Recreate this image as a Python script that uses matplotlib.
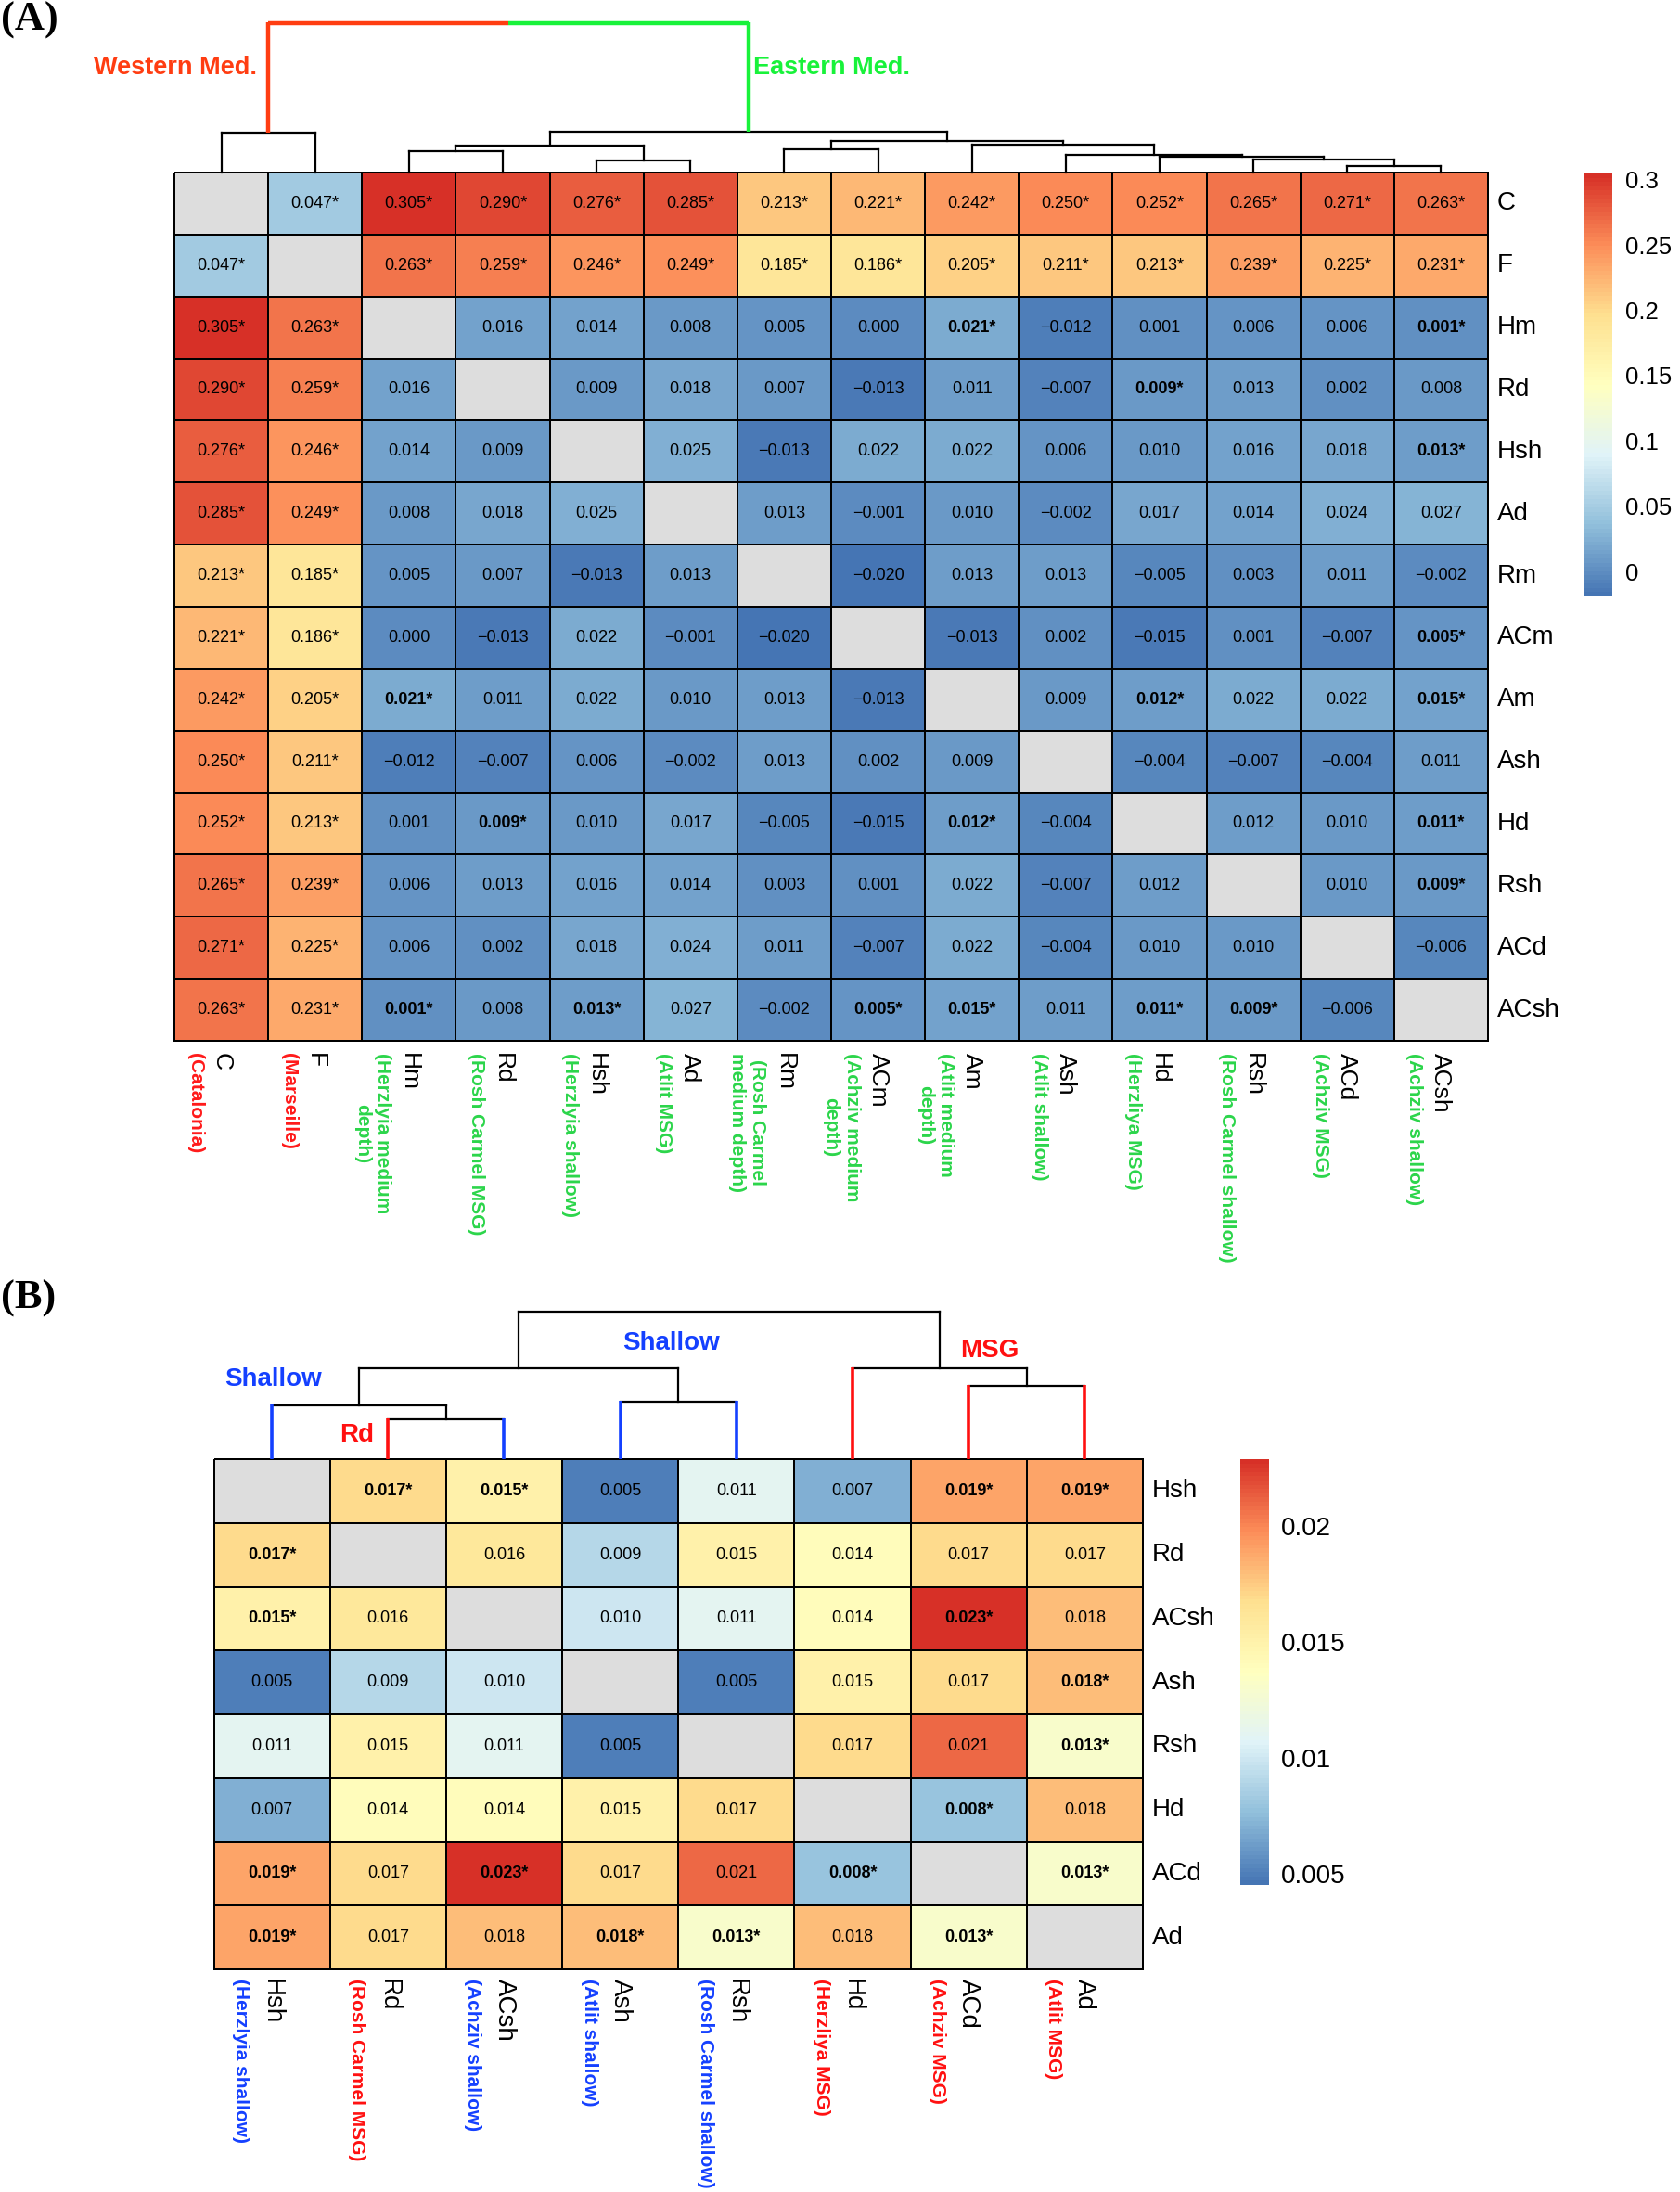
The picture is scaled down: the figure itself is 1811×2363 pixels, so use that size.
import numpy as np
import matplotlib
matplotlib.use('Agg')
import matplotlib.pyplot as plt
from matplotlib.colors import LinearSegmentedColormap, Normalize
from matplotlib.cm import ScalarMappable

W, H, DPI = 1811, 2363, 100
plt.rcParams['font.family'] = ['Liberation Sans', 'DejaVu Sans']

nan = np.nan

# ---------------- Panel A data ----------------
a_labels = ['C', 'F', 'Hm', 'Rd', 'Hsh', 'Ad', 'Rm', 'ACm', 'Am', 'Ash', 'Hd', 'Rsh', 'ACd', 'ACsh']
a_names = ['(Catalonia)', '(Marseille)', '(Herzlyia medium\ndepth)', '(Rosh Carmel MSG)',
           '(Herzlyia shallow)', '(Atlit MSG)', '(Rosh Carmel\nmedium depth)', '(Achziv medium\ndepth)',
           '(Atlit medium\ndepth)', '(Atlit shallow)', '(Herzliya MSG)', '(Rosh Carmel shallow)',
           '(Achziv MSG)', '(Achziv shallow)']
a_region = ['W', 'W'] + ['E'] * 12
a_values = [
    [nan, .047, .305, .290, .276, .285, .213, .221, .242, .250, .252, .265, .271, .263],
    [.047, nan, .263, .259, .246, .249, .185, .186, .205, .211, .213, .239, .225, .231],
    [.305, .263, nan, .016, .014, .008, .005, .000, .021, -.012, .001, .006, .006, .001],
    [.290, .259, .016, nan, .009, .018, .007, -.013, .011, -.007, .009, .013, .002, .008],
    [.276, .246, .014, .009, nan, .025, -.013, .022, .022, .006, .010, .016, .018, .013],
    [.285, .249, .008, .018, .025, nan, .013, -.001, .010, -.002, .017, .014, .024, .027],
    [.213, .185, .005, .007, -.013, .013, nan, -.020, .013, .013, -.005, .003, .011, -.002],
    [.221, .186, .000, -.013, .022, -.001, -.020, nan, -.013, .002, -.015, .001, -.007, .005],
    [.242, .205, .021, .011, .022, .010, .013, -.013, nan, .009, .012, .022, .022, .015],
    [.250, .211, -.012, -.007, .006, -.002, .013, .002, .009, nan, -.004, -.007, -.004, .011],
    [.252, .213, .001, .009, .010, .017, -.005, -.015, .012, -.004, nan, .012, .010, .011],
    [.265, .239, .006, .013, .016, .014, .003, .001, .022, -.007, .012, nan, .010, .009],
    [.271, .225, .006, .002, .018, .024, .011, -.007, .022, -.004, .010, .010, nan, -.006],
    [.263, .231, .001, .008, .013, .027, -.002, .005, .015, .011, .011, .009, -.006, nan],
]
a_sig = [
    [0, 1, 1, 1, 1, 1, 1, 1, 1, 1, 1, 1, 1, 1],
    [1, 0, 1, 1, 1, 1, 1, 1, 1, 1, 1, 1, 1, 1],
    [1, 1, 0, 0, 0, 0, 0, 0, 1, 0, 0, 0, 0, 1],
    [1, 1, 0, 0, 0, 0, 0, 0, 0, 0, 1, 0, 0, 0],
    [1, 1, 0, 0, 0, 0, 0, 0, 0, 0, 0, 0, 0, 1],
    [1, 1, 0, 0, 0, 0, 0, 0, 0, 0, 0, 0, 0, 0],
    [1, 1, 0, 0, 0, 0, 0, 0, 0, 0, 0, 0, 0, 0],
    [1, 1, 0, 0, 0, 0, 0, 0, 0, 0, 0, 0, 0, 1],
    [1, 1, 1, 0, 0, 0, 0, 0, 0, 0, 1, 0, 0, 1],
    [1, 1, 0, 0, 0, 0, 0, 0, 0, 0, 0, 0, 0, 0],
    [1, 1, 0, 1, 0, 0, 0, 0, 1, 0, 0, 0, 0, 1],
    [1, 1, 0, 0, 0, 0, 0, 0, 0, 0, 0, 0, 0, 1],
    [1, 1, 0, 0, 0, 0, 0, 0, 0, 0, 0, 0, 0, 0],
    [1, 1, 1, 0, 1, 0, 0, 1, 1, 0, 1, 1, 0, 0],
]
# dendrogram merges: (left, right, height)
a_tree = [
    ('C', 'F', 42.7),
    ('Hm', 'Rd', 22.7),
    ('Hsh', 'Ad', 13.3),
    (1, 2, 29.3),
    ('Rm', 'ACm', 25.0),
    ('ACd', 'ACsh', 7.0),
    ('Rsh', 5, 14.3),
    ('Hd', 6, 17.3),
    ('Ash', 7, 19.3),
    ('Am', 8, 30.0),
    (4, 9, 34.3),
    (3, 10, 44.3),
    (0, 11, 161.0),
]
a_range = (-0.0190, 0.3047)
a_ticks = [0, 0.05, 0.1, 0.15, 0.2, 0.25, 0.3]
a_ticklabels = ['0', '0.05', '0.1', '0.15', '0.2', '0.25', '0.3']

# ---------------- Panel B data ----------------
b_labels = ['Hsh', 'Rd', 'ACsh', 'Ash', 'Rsh', 'Hd', 'ACd', 'Ad']
b_names = ['(Herzlyia shallow)', '(Rosh Carmel MSG)', '(Achziv shallow)', '(Atlit shallow)',
           '(Rosh Carmel shallow)', '(Herzliya MSG)', '(Achziv MSG)', '(Atlit MSG)']
b_group = ['shallow', 'msg', 'shallow', 'shallow', 'shallow', 'msg', 'msg', 'msg']
b_values = [
    [nan, .017, .015, .005, .011, .007, .019, .019],
    [.017, nan, .016, .009, .015, .014, .017, .017],
    [.015, .016, nan, .010, .011, .014, .023, .018],
    [.005, .009, .010, nan, .005, .015, .017, .018],
    [.011, .015, .011, .005, nan, .017, .021, .013],
    [.007, .014, .014, .015, .017, nan, .008, .018],
    [.019, .017, .023, .017, .021, .008, nan, .013],
    [.019, .017, .018, .018, .013, .018, .013, nan],
]
b_sig = [
    [0, 1, 1, 0, 0, 0, 1, 1],
    [1, 0, 0, 0, 0, 0, 0, 0],
    [1, 0, 0, 0, 0, 0, 1, 0],
    [0, 0, 0, 0, 0, 0, 0, 1],
    [0, 0, 0, 0, 0, 0, 0, 1],
    [0, 0, 0, 0, 0, 0, 1, 0],
    [1, 0, 1, 0, 0, 1, 0, 1],
    [1, 0, 0, 1, 1, 0, 1, 0],
]
b_tree = [
    ('Rd', 'ACsh', 43.4),
    ('Hsh', 0, 57.7),
    ('Ash', 'Rsh', 61.7),
    (1, 2, 97.7),
    ('ACd', 'Ad', 78.7),
    ('Hd', 4, 97.7),
    (3, 5, 159.4),
]
b_range = (0.00452, 0.02288)
b_ticks = [0.005, 0.01, 0.015, 0.02]
b_ticklabels = ['0.005', '0.01', '0.015', '0.02']

# ---------------- styling ----------------
PAL = ['#4575B4', '#91BFDB', '#E0F3F8', '#FFFFBF', '#FEE090', '#FC8D59', '#D73027']
cmap = LinearSegmentedColormap.from_list('ph', PAL, N=100)
cmap.set_bad('#DDDDDD')
WEST = '#FF3D12'
EAST = '#18F23A'
LAB_RED = '#FF1A1A'
LAB_GREEN = '#2BD54A'
BLUE = '#1440FF'
RED = '#FF1010'

fig = plt.figure(figsize=(W / DPI, H / DPI), dpi=DPI)


def rect(x0, y0, x1, y1):
    return [x0 / W, 1 - y1 / H, (x1 - x0) / W, (y1 - y0) / H]


def heatmap(box, values, sig, bold, labels, names, name_colors, rng, code_fs, name_fs,
            pad_px, off_px):
    x0, y0, x1, y1 = box
    n = len(labels)
    ax = fig.add_axes(rect(*box))
    ax.set_facecolor('#DDDDDD')
    v = np.ma.masked_invalid(np.array(values, dtype=float))
    norm = Normalize(*rng)
    ax.pcolormesh(np.arange(n + 1), np.arange(n + 1), v, cmap=cmap, norm=norm,
                  edgecolors='black', linewidth=1.3, clip_on=False)
    ax.set_xlim(0, n)
    ax.set_ylim(n, 0)
    ax.axis('off')
    for i in range(n):
        for j in range(n):
            val = values[i][j]
            if np.isnan(val):
                continue
            s = f'{val:.3f}'.replace('-', '\u2212')
            if sig[i][j]:
                s += '*'
            ax.text(j + 0.5, i + 0.5, s, ha='center', va='center', fontsize=13,
                    fontweight='bold' if bold(i, j) else 'normal')
    cw = (x1 - x0) / n
    rh = (y1 - y0) / n
    for i, lab in enumerate(labels):
        ax.text(n + 10 / cw, i + 0.5, lab, ha='left', va='center', fontsize=20, clip_on=False)
    for j, lab in enumerate(labels):
        ax.text(j + 0.5, n + pad_px / rh, lab, rotation=270, ha='center', va='top',
                fontsize=code_fs, clip_on=False)
        ax.text(j + 0.5 - off_px / cw, n + pad_px / rh, names[j], rotation=270,
                ha='right', va='top', multialignment='center', fontsize=name_fs,
                fontweight='bold', color=name_colors[j], clip_on=False)
    return ax, norm


def colorbar(box, norm, ticks, ticklabels, fs, pad):
    cax = fig.add_axes(rect(*box))
    cb = fig.colorbar(ScalarMappable(norm=norm, cmap=cmap), cax=cax, ticks=ticks)
    cb.outline.set_visible(False)
    cb.set_ticklabels(ticklabels)
    cax.tick_params(length=0, labelsize=fs, pad=pad)
    return cb


def dendro(box, tree, leaves, lw=1.6, leaf_colors=None, leaf_lw=2.6,
           root_colors=None, root_lw=3.2):
    x0, y0, x1, y1 = box
    ax = fig.add_axes(rect(*box))
    ax.set_xlim(0, len(leaves))
    ax.set_ylim(0, y1 - y0)
    ax.axis('off')
    pos = {nm: i + 0.5 for i, nm in enumerate(leaves)}
    hgt = {nm: 0.0 for nm in leaves}
    last = len(tree) - 1
    for k, (l, r, h) in enumerate(tree):
        xl, xr = pos[l], pos[r]
        hl, hr = hgt[l], hgt[r]
        xm = (xl + xr) / 2
        pos[k], hgt[k] = xm, h
        if root_colors is not None and k == last:
            cl, cr = root_colors
            ax.plot([xl, xm], [h, h], color=cl, lw=root_lw, solid_capstyle='butt', clip_on=False)
            ax.plot([xm, xr], [h, h], color=cr, lw=root_lw, solid_capstyle='butt', clip_on=False)
            ax.plot([xl, xl], [h + 0.8, hl], color=cl, lw=root_lw, solid_capstyle='butt', clip_on=False)
            ax.plot([xr, xr], [h + 0.8, hr], color=cr, lw=root_lw, solid_capstyle='butt', clip_on=False)
            continue
        ax.plot([xl, xr], [h, h], color='black', lw=lw, clip_on=False)
        for xc, child, hc in ((xl, l, hl), (xr, r, hr)):
            if leaf_colors is not None and isinstance(child, str):
                ax.plot([xc, xc], [h + 1, hc], color=leaf_colors[child], lw=leaf_lw,
                        solid_capstyle='butt', clip_on=False)
            else:
                ax.plot([xc, xc], [h, hc], color='black', lw=lw, clip_on=False)
    return ax


def ftext(x, y, s, **kw):
    fig.text(x / W, 1 - y / H, s, **kw)


# ---------------- Panel A ----------------
A_BOX = (188, 186, 1604, 1122)
a_name_colors = [LAB_RED if r == 'W' else LAB_GREEN for r in a_region]
a_bold = lambda i, j: a_sig[i][j] and a_region[i] == 'E' and a_region[j] == 'E'
axA, normA = heatmap(A_BOX, a_values, a_sig, a_bold, a_labels, a_names, a_name_colors, a_range,
                     code_fs=19, name_fs=15, pad_px=13, off_px=19)
colorbar((1708, 187, 1738, 643), normA, a_ticks, a_ticklabels, fs=18.5, pad=10)
dendro((188, 0, 1604, 186), a_tree, a_labels, root_colors=(WEST, EAST))
ftext(277, 73, 'Western Med.', ha='right', va='center', fontsize=19.5,
      fontweight='bold', color=WEST)
ftext(812, 73, 'Eastern Med.', ha='left', va='center', fontsize=19.5,
      fontweight='bold', color=EAST)
ftext(1, 2, '(A)', ha='left', va='top', fontsize=32, fontweight='bold',
      family=['Liberation Serif', 'DejaVu Serif'])

# ---------------- Panel B ----------------
B_BOX = (230.5, 1573, 1232, 2123)
b_cols = [BLUE if g == 'shallow' else RED for g in b_group]
b_bold = lambda i, j: bool(b_sig[i][j])
axB, normB = heatmap(B_BOX, b_values, b_sig, b_bold, b_labels, b_names, b_cols, b_range,
                     code_fs=20, name_fs=15, pad_px=10, off_px=24)
colorbar((1337, 1573, 1368, 2032), normB, b_ticks, b_ticklabels, fs=20, pad=9.5)
dendro((230.5, 1380, 1232, 1573), b_tree, b_labels,
       leaf_colors=dict(zip(b_labels, b_cols)))
ftext(295, 1487, 'Shallow', ha='center', va='center', fontsize=20, fontweight='bold', color=BLUE)
ftext(385, 1547, 'Rd', ha='center', va='center', fontsize=20, fontweight='bold', color=RED)
ftext(724, 1448, 'Shallow', ha='center', va='center', fontsize=20, fontweight='bold', color=BLUE)
ftext(1067, 1456, 'MSG', ha='center', va='center', fontsize=20, fontweight='bold', color=RED)
ftext(1, 1380, '(B)', ha='left', va='top', fontsize=32, fontweight='bold',
      family=['Liberation Serif', 'DejaVu Serif'])

fig.savefig('out.png', dpi=DPI)
